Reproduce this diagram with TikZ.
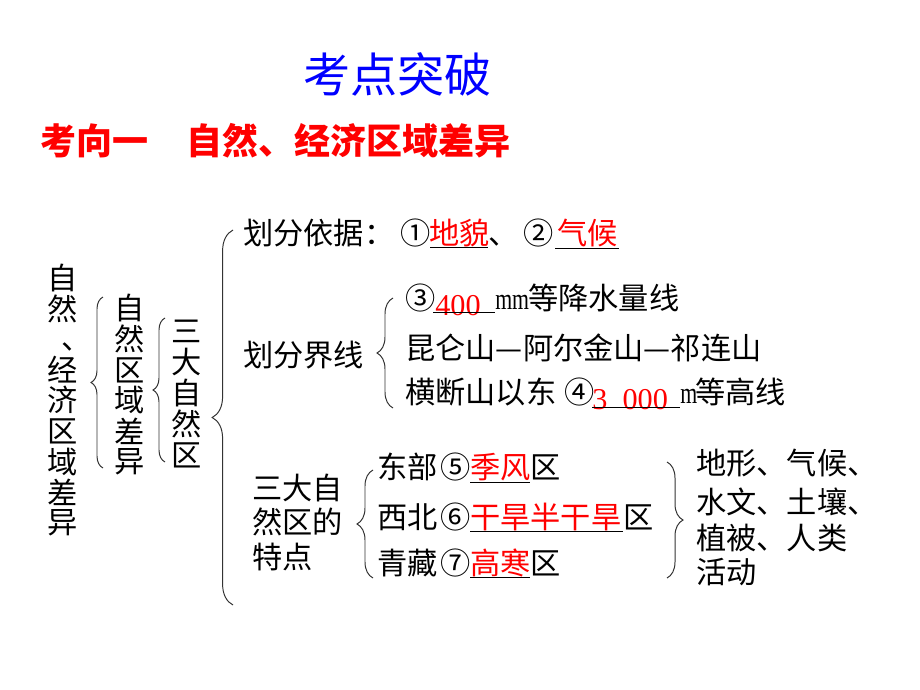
\documentclass[tikz,border=0pt]{standalone}
\usepackage{fontspec}
\setmainfont{Liberation Serif}
\newfontfamily\cjk{Noto Sans CJK SC}
\usetikzlibrary{decorations.pathreplacing}
\def\curly[#1](#2)(#3){\draw[bracket=#1] (#2) -- (#3);}
\def\narrowm#1{\scalebox{0.72}[1]{#1}}

\tikzset{
	txt/.style={font=\cjk\fontsize{21.5pt}{26pt}\selectfont, inner sep=0pt, anchor=base west},
	ans/.style={txt, text=red},
	num/.style={font=\fontsize{21.5pt}{26pt}\selectfont, inner sep=0pt, anchor=base west},
	vtxt/.style={font=\cjk\fontsize{21.5pt}{26pt}\selectfont, inner sep=0pt},
	bracket/.style={decorate, decoration={brace, amplitude=#1}, line width=0.7pt, black!80},
	ansline/.style={line width=0.6pt},
}

\begin{document}
\begin{tikzpicture}[x=0.025cm, y=-0.025cm]
	%%%%% START %%%%%
	\useasboundingbox (0, 0) rectangle (920, 690);
	
	\node[font=\cjk\fontsize{33.5pt}{40pt}\selectfont, text=blue, inner sep=0pt, anchor=base west] (title) at (303, 93) {考点突破};
	\node[font=\cjk\bfseries\fontsize{25.6pt}{30pt}\selectfont, text=red, inner sep=0pt, anchor=base west] (head1) at (40, 154) {考向一};
	\node[font=\cjk\bfseries\fontsize{25.6pt}{30pt}\selectfont, text=red, inner sep=0pt, anchor=base west] (head2) at (186, 154) {自然、经济区域差异};
	
	% vertical columns
	\foreach \c/\y [count=\i] in {自/278, 然/309, 经/370, 济/400, 区/431, 域/462, 差/492, 异/523}
		\node[vtxt] (outer\i) at (63, \y) {\c};
	\node[txt] (outercomma) at (61, 349) {\smash{、}};
	\foreach \c/\y [count=\i] in {自/308, 然/339, 区/370, 域/400, 差/431, 异/462}
		\node[vtxt] (mid\i) at (130, \y) {\c};
	\foreach \c/\y [count=\i] in {三/331, 大/362, 自/393, 然/424, 区/455}
		\node[vtxt] (inner\i) at (187, \y) {\c};
	
	\curly[0.3cm](103, 468)(103, 297)
	\curly[0.3cm](165, 462)(165, 318)
	\curly[0.52cm](233, 605)(233, 230)
	
	% basis
	\node[txt] (basis) at (243, 244) {划分依据：};
	\node[txt] (n1) at (400, 244) {①};
	\node[ans] (landform) at (429, 244) {地貌};
	\node[txt] (dun) at (488, 244) {、};
	\node[txt] (n2) at (523, 244) {②};
	\node[ans] (climate) at (557, 244) {气候};
	\draw[ansline] (430, 247) -- (488, 247);
	\draw[ansline] (555, 248) -- (619, 248);
	
	% boundary lines
	\node[txt] (bound) at (243, 366) {划分界线};
	\curly[0.4cm](393, 408)(393, 298)
	\node[txt] (n3) at (405, 309) {③};
	\node[num, text=red] (rain) at (435, 315) {400};
	\node[num] (mm) at (495, 309) {\narrowm{mm}};
	\node[txt] (rainline) at (528, 309) {等降水量线};
	\draw[ansline] (433, 312) -- (495, 312);
	\node[txt] (ranges) at (405, 359) {昆仑山—阿尔金山—祁连山};
	\node[txt] (hengduan) at (405, 403) {横断山以东};
	\node[txt] (n4) at (564, 403) {④};
	\node[num, text=red] (height) at (592, 409) {3\hspace{0.5em}000};
	\node[num] (m) at (680, 403) {\narrowm{m}};
	\node[txt] (contour) at (695, 403) {等高线};
	\draw[ansline] (592, 407) -- (680, 407);
	
	% features
	\foreach \l/\y [count=\i] in {三大自/499, 然区的/533, 特点/568}
		\node[txt] (feat\i) at (252, \y) {\l};
	\curly[0.4cm](373, 578)(373, 470)
	\node[txt] (east) at (377, 478) {东部};
	\node[txt] (n5) at (440, 478) {⑤};
	\node[ans] (monsoon) at (470, 478) {季风};
	\node[txt] (eastqu) at (530, 478) {区};
	\draw[ansline] (470, 482) -- (530, 482);
	\node[txt] (northwest) at (377, 528) {西北};
	\node[txt] (n6) at (440, 528) {⑥};
	\node[ans] (arid) at (470, 528) {干旱半干旱};
	\node[txt] (nwqu) at (623, 528) {区};
	\draw[ansline] (470, 531) -- (623, 531);
	\node[txt] (tibet) at (377, 574) {青藏};
	\node[txt] (n7) at (440, 574) {⑦};
	\node[ans] (cold) at (470, 574) {高寒};
	\node[txt] (tibetqu) at (530, 574) {区};
	\draw[ansline] (470, 577) -- (530, 577);
	
	\curly[0.4cm](667, 462)(667, 578)
	\foreach \l/\y [count=\i] in {地形、气候、/474, 水文、土壤、/513, 植被、人类/549, 活动/583}
		\node[txt] (factor\i) at (696, \y) {\l};
	%%%%% END %%%%%
\end{tikzpicture}
\end{document}
